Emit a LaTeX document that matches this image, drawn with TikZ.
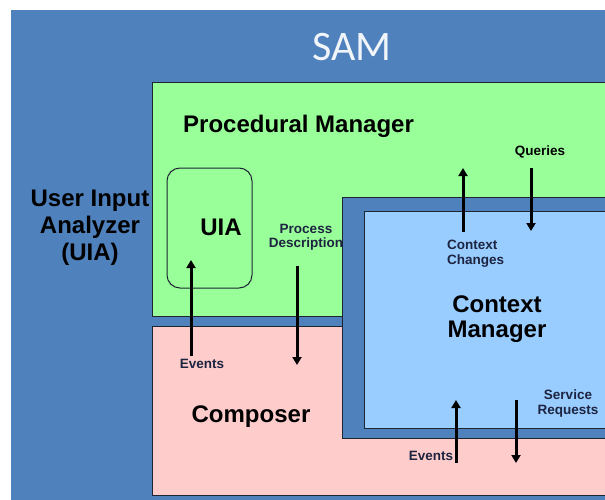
\documentclass[tikz,border=0pt]{standalone}
\usepackage{fontspec}
\setmainfont{Liberation Sans}
\newfontfamily\samfont{Carlito}
\usetikzlibrary{arrows.meta}
\definecolor{sambg}{HTML}{4F81BD}
\definecolor{pmgreen}{HTML}{99FF99}
\definecolor{cmpink}{HTML}{FFCCCC}
\definecolor{cmblue}{HTML}{99CCFF}
\definecolor{edge}{HTML}{1E2633}
\definecolor{lbl}{HTML}{1C2440}

\begin{document}
\begin{tikzpicture}[x=1pt,y=-1pt,
    box/.style={draw=edge,line width=1pt},
    big/.style={font=\fontsize{24}{25}\selectfont\bfseries,inner sep=0pt,align=center},
    small/.style={font=\fontsize{13.5}{14.5}\selectfont\bfseries,inner sep=0pt,text=lbl},
    flow/.style={line width=3pt,-{Triangle[width=9pt,length=8pt]}}]
    \useasboundingbox (0,0) rectangle (605,500);
    \clip (0,0) rectangle (605,500);

    % Draw the background and the boxes
    \fill[sambg] (11,10) rectangle (610,505);
    \draw[box,fill=pmgreen] (152,83) rectangle (610,316);
    \draw[box,fill=cmpink] (152,326) rectangle (610,495);
    \draw[box,fill=sambg] (342,197) rectangle (610,438);
    \draw[box,fill=cmblue] (364,211) rectangle (610,428);
    \draw[box,rounded corners=13pt] (167,168) rectangle (252,288);

    % Label each box
    \node (sam) at (352,47) [text=white!92!sambg,font=\samfont\fontsize{42}{44}\selectfont] {SAM};
    \node (pm) at (183,133) [big,anchor=base west] {Procedural Manager};
    \node (uia) at (221,235) [big,anchor=base] {UIA};
    \node (uian) at (90,228) [big,font=\fontsize{24}{27}\selectfont\bfseries] {User Input\\Analyzer\\(UIA)};
    \node (cm) at (497,319) [big] {Context\\Manager};
    \node (comp) at (251,422) [big,anchor=base] {Composer};

    % Label each flow
    \node (qry) at (540,155) [small,text=black,anchor=base] {Queries};
    \node (chg) at (447,240) [small,anchor=north west,align=left] {Context\\Changes};
    \node (proc) at (306,224) [small,anchor=north,align=center] {Process\\Description};
    \node (evl) at (202,368) [small,anchor=base] {Events};
    \node (evr) at (431,460) [small,anchor=base] {Events};
    \node (srv) at (568,390) [small,anchor=north,align=center] {Service\\Requests};

    % Ends of the flow arrows
    \coordinate (evlA) at (191,356);  \coordinate (evlB) at (191,260);
    \coordinate (procA) at (297,266); \coordinate (procB) at (297,365);
    \coordinate (chgA) at (463,232);  \coordinate (chgB) at (463,168);
    \coordinate (qryA) at (531,168);  \coordinate (qryB) at (531,231);
    \coordinate (evrA) at (456,463);  \coordinate (evrB) at (456,400);
    \coordinate (srvA) at (516,400);  \coordinate (srvB) at (516,463);

    % Draw the flow arrows
    \draw[flow] (evlA) -- (evlB);
    \draw[flow] (procA) -- (procB);
    \draw[flow] (chgA) -- (chgB);
    \draw[flow] (qryA) -- (qryB);
    \draw[flow] (evrA) -- (evrB);
    \draw[flow] (srvA) -- (srvB);
\end{tikzpicture}
\end{document}
